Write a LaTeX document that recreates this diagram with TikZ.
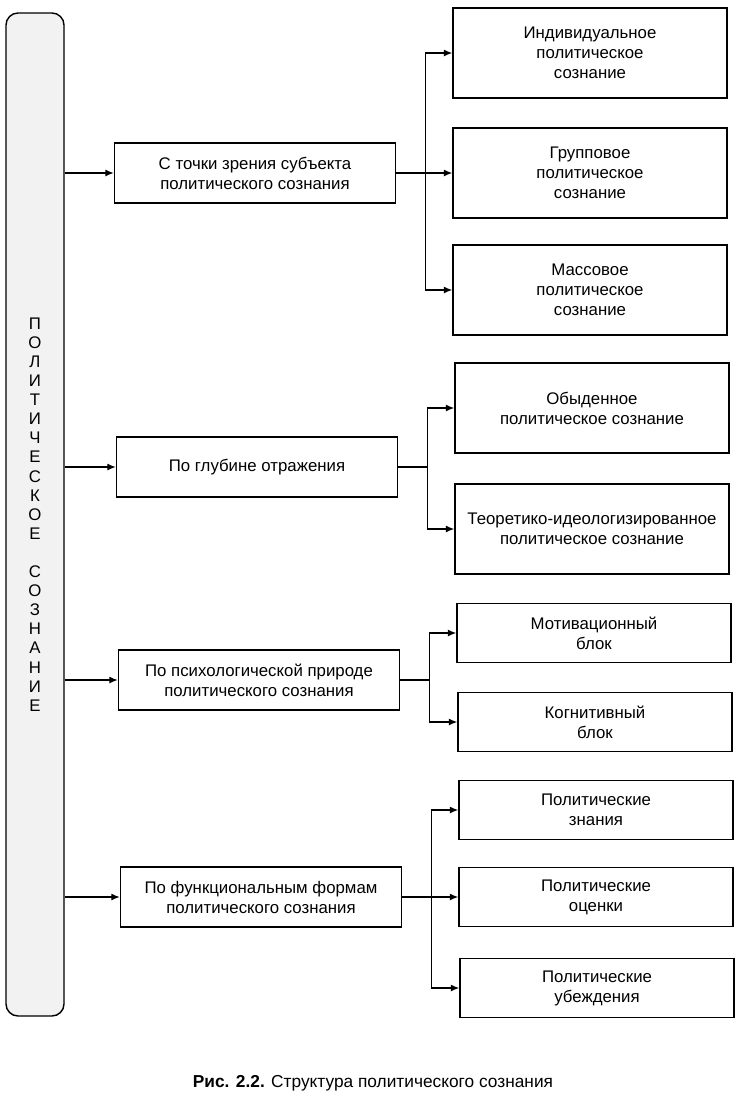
\documentclass[tikz,border=0pt]{standalone}
\usepackage{fontspec}
\setmainfont{Liberation Sans}
\usepackage{tikz}
\usetikzlibrary{arrows.meta,positioning}
\newcommand\labfont{\fontsize{16.8}{20}\selectfont}
\newcommand\capfont{\fontsize{17.3}{20}\selectfont}
\tikzset{
  wire/.style={black,line width=1.3pt},
  flow/.style={wire,-{Latex[length=8.5pt,width=7pt]}},
  axisbox/.style={draw=black,line width=1.4pt,rounded corners=12pt,fill=black!5,
                  minimum width=58pt,minimum height=1003pt,inner sep=0pt,align=center,
                  font={\fontsize{16.8}{19.1}\selectfont}},
  aspect/.style={draw=black,line width=1.4pt,fill=white,minimum width=281pt,minimum height=60pt,
                 inner sep=2pt,align=center,font=\labfont},
  kind/.style={aspect,minimum width=274pt,minimum height=90pt},
  kindlow/.style={kind,minimum height=59pt},
}

\begin{document}
\begin{tikzpicture}[x=1pt,y=-1pt]
  \path[use as bounding box] (0,0) rectangle (743,1098);

  \node[axisbox] (axis) at (35,514.5)
    {П\\О\\Л\\И\\Т\\И\\Ч\\Е\\С\\К\\О\\Е\\[19.1pt]С\\О\\З\\Н\\А\\Н\\И\\Е};

  \node[aspect] (subj)  at (255,173) {С точки зрения субъекта\\политического сознания};
  \node[aspect] (depth) at (257,467) {По глубине отражения};
  \node[aspect] (psych) at (259,680) {По психологической природе\\политического сознания};
  \node[aspect] (func)  at (261,897) {По функциональным формам\\политического сознания};

  \node[kind] (indiv) at (590,53)  {Индивидуальное\\политическое\\сознание};
  \node[kind] (group) at (590,173) {Групповое\\политическое\\сознание};
  \node[kind] (mass)  at (590,290) {Массовое\\политическое\\сознание};
  \node[kind] (daily) at (592,408) {Обыденное\\политическое сознание};
  \node[kind] (theor) at (592,529) {Теоретико-идеологизированное\\политическое сознание};
  \node[kindlow] (motiv) at (594,633) {Мотивационный\\блок};
  \node[kindlow] (cogn)  at (595,722) {Когнитивный\\блок};
  \node[kindlow] (know)  at (596,810) {Политические\\знания};
  \node[kindlow] (judge) at (596,897) {Политические\\оценки};
  \node[kindlow] (belief) at (597,988) {Политические\\убеждения};

  % from the axis to the four criteria
  \foreach \crit in {subj,depth,psych,func}
    \draw[flow] (axis.east |- \crit.west) -- (\crit.west);

  % branches
  \draw[flow] (subj.east) -- ++(29,0) |- (indiv.west);
  \draw[flow] (subj.east) -- (group.west);
  \draw[flow] (subj.east) -- ++(29,0) |- (mass.west);

  \draw[flow] (depth.east) -- ++(29,0) |- (daily.west);
  \draw[flow] (depth.east) -- ++(29,0) |- (theor.west);

  \draw[flow] (psych.east) -- ++(29,0) |- (motiv.west);
  \draw[flow] (psych.east) -- ++(29,0) |- (cogn.west);

  \draw[flow] (func.east) -- ++(29,0) |- (know.west);
  \draw[flow] (func.east) -- (judge.west);
  \draw[flow] (func.east) -- ++(29,0) |- (belief.west);

  \node[font=\capfont] (caption) at (373,1083)
    {\textbf{Рис. 2.2.} Структура политического сознания};
\end{tikzpicture}
\end{document}
